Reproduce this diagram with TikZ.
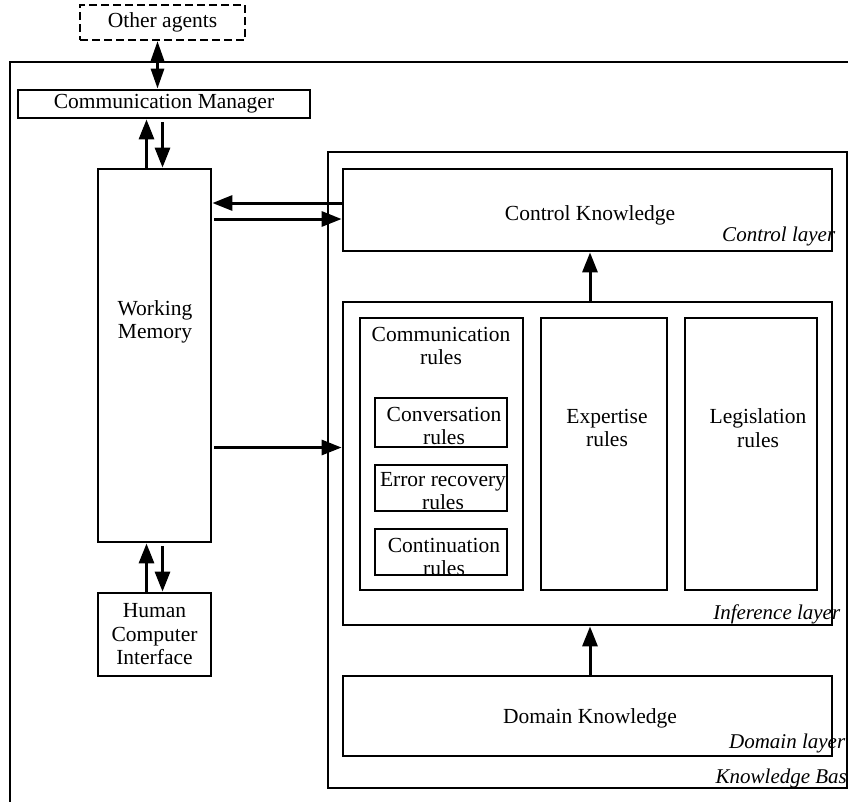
\documentclass[tikz,border=0pt]{standalone}
\usepackage{fontspec}
\setmainfont{Liberation Serif}
\usetikzlibrary{positioning,arrows.meta,calc}
\tikzset{
  block/.style={rectangle, draw=black, line width=2.8pt, inner sep=0pt},
  connect/.style={-{Triangle[length=20pt,width=15pt]}, line width=3pt},
  both/.style={{Triangle[length=20pt,width=13pt]}-{Triangle[length=20pt,width=13pt]}, line width=3pt},
  txt/.style={align=center, inner sep=0pt},
  layer/.style={font=\fontsize{21}{24}\selectfont\itshape, inner sep=0pt, anchor=base east}
}

\begin{document}
\begin{tikzpicture}[x=1pt, y=-1pt, font=\fontsize{21.5}{23.5}\selectfont]
    \useasboundingbox (0,0) rectangle (848,801);

    % agent frame and outside world
    \node[block, minimum width=860pt, minimum height=768pt] (agent) at (440,446) {};
    \node[block, line width=2.2pt, dash pattern=on 8pt off 4pt, minimum width=165pt, minimum height=35pt] (others) at (162.5,22.5) {Other agents};
    \node[block, minimum width=292pt, minimum height=28pt] (CM) at (164,104) {Communication Manager};
    \node[block, minimum width=113pt, minimum height=373pt] (WM) at (154.5,355.5) {};
    \node[txt] (WMtext) at (155,322) {Working\\Memory};
    \node[block, minimum width=113pt, minimum height=83pt, align=center] (HCI) at (154.5,634.5) {Human\\Computer\\Interface};

    % knowledge base
    \node[block, minimum width=519pt, minimum height=636pt] (KB) at (587.5,470) {};
    \node[block, minimum width=489pt, minimum height=82pt] (CK) at (587.5,210) {};
    \node[txt] (CKtext) at (590,215) {Control Knowledge};
    \node[block, minimum width=489pt, minimum height=323pt] (IL) at (587.5,463.5) {};
    \node[block, minimum width=489pt, minimum height=80pt] (DK) at (587.5,716) {};
    \node[txt] (DKtext) at (590,718) {Domain Knowledge};

    % rule bases
    \node[block, minimum width=163pt, minimum height=272pt] (CR) at (441.5,454) {};
    \node[txt] (CRtext) at (441,346) {Communication\\rules};
    \node[block, minimum width=132pt, minimum height=49pt] (conv) at (441,422.5) {};
    \node[txt] (convtext) at (444,426) {Conversation\\rules};
    \node[block, minimum width=132pt, minimum height=46pt] (err) at (441,488) {};
    \node[txt, text depth=0pt] (errtext) at (443,491) {Error recovery\\rules};
    \node[block, minimum width=132pt, minimum height=46pt] (cont) at (441,552) {};
    \node[txt] (conttext) at (444,557) {Continuation\\rules};
    \node[block, minimum width=126pt, minimum height=272pt] (ER) at (604,454) {};
    \node[txt] (ERtext) at (607,428) {Expertise\\rules};
    \node[block, minimum width=132pt, minimum height=272pt] (LR) at (751,454) {};
    \node[txt] (LRtext) at (758,428) {Legislation\\rules};

    % layer names
    \node[layer] (ctrl) at ([xshift=2pt, yshift=11pt]CK.south east) {Control layer};
    \node[layer] (infer) at ([xshift=7pt, yshift=7pt]IL.south east) {Inference layer};
    \node[layer] (dom) at ([xshift=12pt, yshift=9pt]DK.south east) {Domain layer};
    \node[layer] (kbase) at ([xshift=8pt, yshift=6pt]KB.south east) {Knowledge Base};

    % message flow
    \draw[both] ([xshift=-5pt]others.south) -- ([xshift=-5pt]others.south |- CM.north);
    \draw[connect] ([xshift=-8pt]WM.north) -- ([xshift=-8pt]WM.north |- CM.south);
    \draw[connect] ([xshift=8pt, yshift=-3pt]WM.north |- CM.south) -- ([xshift=8pt]WM.north);
    \draw[connect] ([xshift=-8pt]HCI.north) -- ([xshift=-8pt]WM.south);
    \draw[connect] ([xshift=8pt, yshift=-3pt]WM.south) -- ([xshift=8pt]HCI.north);
    \draw[connect] ([yshift=7pt]CK.west) -- ([yshift=7pt]CK.west -| WM.east);
    \draw[connect] ([xshift=2pt, yshift=-9pt]CK.west -| WM.east) -- ([yshift=-9pt]CK.west);
    \draw[connect] ([xshift=2pt, yshift=16pt]IL.west -| WM.east) -- ([yshift=16pt]IL.west);
    \draw[connect] ([xshift=2.5pt]IL.north) -- ([xshift=2.5pt]CK.south);
    \draw[connect] ([xshift=2.5pt]DK.north) -- ([xshift=2.5pt]IL.south);
\end{tikzpicture}
\end{document}
